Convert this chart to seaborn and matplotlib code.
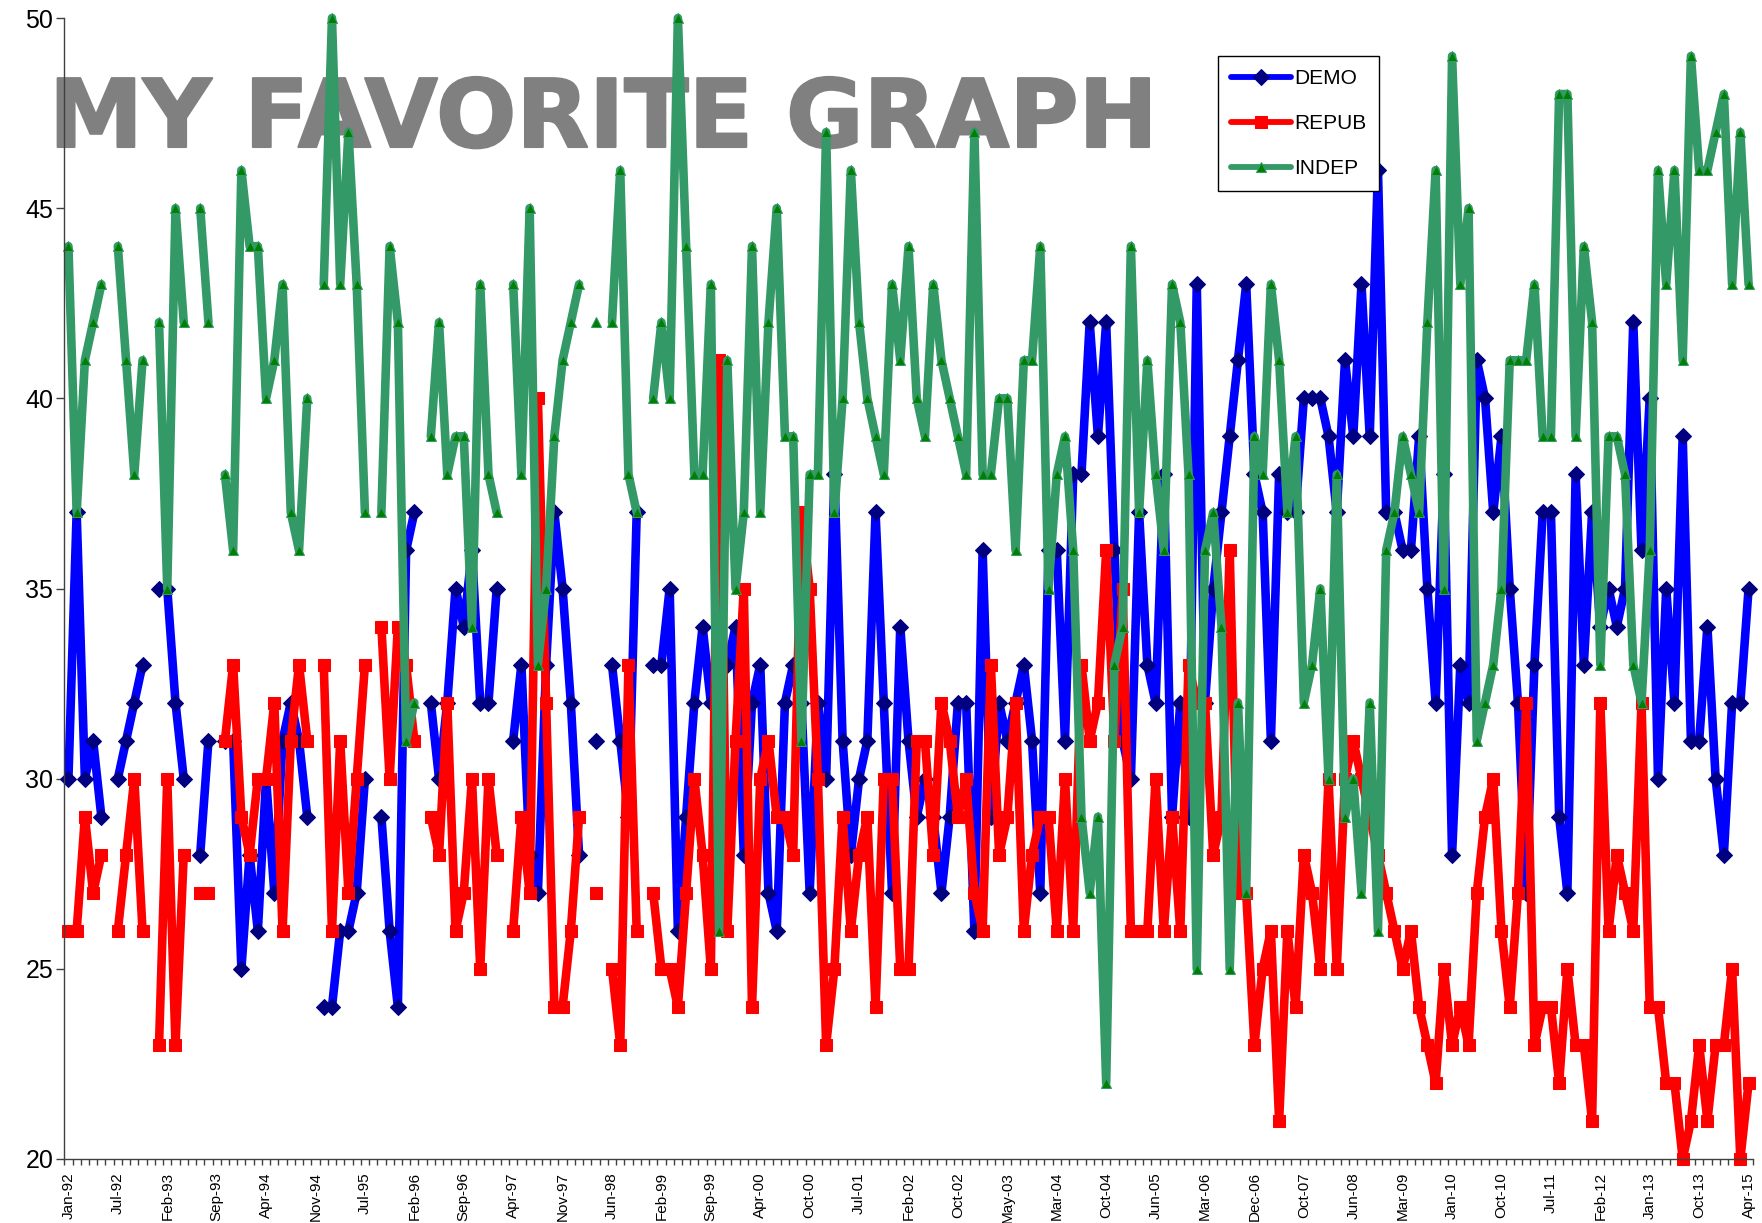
import numpy as np
import pandas as pd
import matplotlib
matplotlib.use("Agg")
import matplotlib.pyplot as plt
import matplotlib.patheffects as pe
import seaborn as sns

n = np.nan
DEMO = [30,37,30,31,29,n,30,31,32,33,
        n,35,35,32,30,n,28,31,n,31,
        31,25,28,26,30,27,31,32,31,29,
        n,24,24,26,26,27,30,n,29,26,
        24,36,37,n,32,30,32,35,34,36,
        32,32,35,n,31,33,28,27,33,37,
        35,32,28,n,31,n,33,31,29,37,
        n,33,33,35,26,29,32,34,32,33,
        33,34,28,32,33,27,26,32,33,32,
        27,32,30,38,31,28,30,31,37,32,
        27,34,31,29,30,29,27,29,32,32,
        26,36,29,32,31,32,33,31,27,36,
        36,31,38,38,42,39,42,36,31,30,
        37,33,32,38,29,32,29,43,32,35,
        37,39,41,43,38,37,31,38,37,37,
        40,40,40,39,37,41,39,43,39,46,
        37,37,36,36,39,35,32,38,28,33,
        32,41,40,37,39,35,32,27,33,37,
        37,29,27,38,33,37,34,35,34,35,
        42,36,40,30,35,32,39,31,31,34,
        30,28,32,32,35]
REPUB = [26,26,29,27,28,n,26,28,30,26,
         n,23,30,23,28,n,27,27,n,31,
         33,29,28,30,30,32,26,31,33,31,
         n,33,26,31,27,30,33,n,34,30,
         34,33,31,n,29,28,32,26,27,30,
         25,30,28,n,26,29,27,40,32,24,
         24,26,29,n,27,n,25,23,33,26,
         n,27,25,25,24,27,30,28,25,41,
         26,31,35,24,30,31,29,29,28,37,
         35,30,23,25,29,26,28,29,24,30,
         30,25,25,31,31,28,32,31,29,30,
         27,26,33,28,29,32,26,28,29,29,
         26,30,26,33,31,32,36,31,35,26,
         26,26,30,26,29,26,33,32,32,28,
         29,36,27,27,23,25,26,21,26,24,
         28,27,25,30,25,30,31,30,29,28,
         27,26,25,26,24,23,22,25,23,24,
         23,27,29,30,26,24,27,32,23,24,
         24,22,25,23,23,21,32,26,28,27,
         26,32,24,24,22,22,20,21,23,21,
         23,23,25,20,22]
INDEP = [44,37,41,42,43,n,44,41,38,41,
         n,42,35,45,42,n,45,42,n,38,
         36,46,44,44,40,41,43,37,36,40,
         n,43,50,43,47,43,37,n,37,44,
         42,31,32,n,39,42,38,39,39,34,
         43,38,37,n,43,38,45,33,35,39,
         41,42,43,n,42,n,42,46,38,37,
         n,40,42,40,50,44,38,38,43,26,
         41,35,37,44,37,42,45,39,39,31,
         38,38,47,37,40,46,42,40,39,38,
         43,41,44,40,39,43,41,40,39,38,
         47,38,38,40,40,36,41,41,44,35,
         38,39,36,29,27,29,22,33,34,44,
         37,41,38,36,43,42,38,25,36,37,
         34,25,32,27,39,38,43,41,37,39,
         32,33,35,30,38,29,30,27,32,26,
         36,37,39,38,37,42,46,35,49,43,
         45,31,32,33,35,41,41,41,43,39,
         39,48,48,39,44,42,33,39,39,38,
         33,32,36,46,43,46,41,49,46,46,
         47,48,43,47,43]
TICK_LABELS = ["Jan-92","Jul-92","Feb-93","Sep-93","Apr-94","Nov-94","Jul-95","Feb-96",
               "Sep-96","Apr-97","Nov-97","Jun-98","Feb-99","Sep-99","Apr-00","Oct-00",
               "Jul-01","Feb-02","Oct-02","May-03","Mar-04","Oct-04","Jun-05","Mar-06",
               "Dec-06","Oct-07","Jun-08","Mar-09","Jan-10","Oct-10","Jul-11","Feb-12",
               "Jan-13","Oct-13","Apr-15"]
TITLE = "MY FAVORITE GRAPH"

assert len(DEMO) == len(REPUB) == len(INDEP) == 205

sns.set_theme(style="white")
plt.rcParams["font.family"] = ["Liberation Sans", "DejaVu Sans"]

W, H = 1762, 1223
fig = plt.figure(figsize=(W / 100, H / 100), dpi=100, facecolor="white")
ax = fig.add_axes([64.3 / W, 1 - 1159 / H, (1752.7 - 64.3) / W, (1159 - 18) / H])

def long_form(name, values):
    s = pd.Series(values, dtype=float)
    return pd.DataFrame({"i": s.index, "value": s.values,
                         "segment": s.isna().cumsum().values}).dropna().assign(party=name)

styles = [
    ("DEMO", DEMO, "#0000FF", "D", "#000080", "#000080", 8.5),
    ("REPUB", REPUB, "#FF0000", "s", "#FF0000", "#FF0000", 8.0),
    ("INDEP", INDEP, "#339966", "^", "#008000", "#339966", 6.5),
]
for name, vals, col, mk, mfc, mec, ms in styles:
    sns.lineplot(data=long_form(name, vals), x="i", y="value", units="segment",
                 estimator=None, color=col, marker=mk, markersize=ms,
                 markerfacecolor=mfc, markeredgecolor=mec, markeredgewidth=0.75,
                 linewidth=6.2, solid_joinstyle="round", solid_capstyle="round",
                 label=name, ax=ax, zorder=3, clip_on=False)

ax.set_xlim(-0.5, 204.5)
ax.set_ylim(20, 50)
ax.set_xlabel("")
ax.set_ylabel("")

ax.set_yticks(np.arange(20, 51, 5))
ax.tick_params(axis="y", which="major", left=True, length=6, width=1, color="#404040",
               labelsize=18, pad=2, labelcolor="black")
ax.set_xticks(np.arange(0, 205, 6))
ax.set_xticklabels(TICK_LABELS, rotation=90, fontsize=11, color="black")
ax.tick_params(axis="x", which="major", bottom=False, length=0, pad=9.4)
ax.set_xticks(np.arange(-0.5, 205, 1), minor=True)
ax.tick_params(axis="x", which="minor", bottom=True, length=4.5, width=1, color="#404040")

for side in ("top", "right"):
    ax.spines[side].set_visible(False)
for side in ("left", "bottom"):
    ax.spines[side].set_color("#404040")
    ax.spines[side].set_linewidth(1)
    ax.spines[side].set_zorder(5)

title = ax.text(49 / W, 1 - 147 / H, TITLE, transform=fig.transFigure, ha="left", va="baseline",
                fontsize=68, fontweight="bold", family=["DejaVu Sans"], color="#808080", zorder=1)
title.set_path_effects([pe.withStroke(linewidth=1.5, foreground="#808080")])

h, l = ax.get_legend_handles_labels()
uniq = dict(zip(l, h))
leg = ax.legend(uniq.values(), uniq.keys(), loc="upper left",
                bbox_to_anchor=(1218 / W, 1 - 56 / H), bbox_transform=fig.transFigure,
                fontsize=15, frameon=True, fancybox=False, framealpha=1, edgecolor="black",
                borderaxespad=0, borderpad=0.62, labelspacing=1.25, handlelength=2.9, handletextpad=0.12)
leg.get_frame().set_linewidth(1)
leg.set_zorder(10)
for t in leg.get_texts():
    t.set_color("black")
for line in leg.get_lines():
    line.set_linewidth(4.2)

fig.savefig("out.png", dpi=100, facecolor="white")
